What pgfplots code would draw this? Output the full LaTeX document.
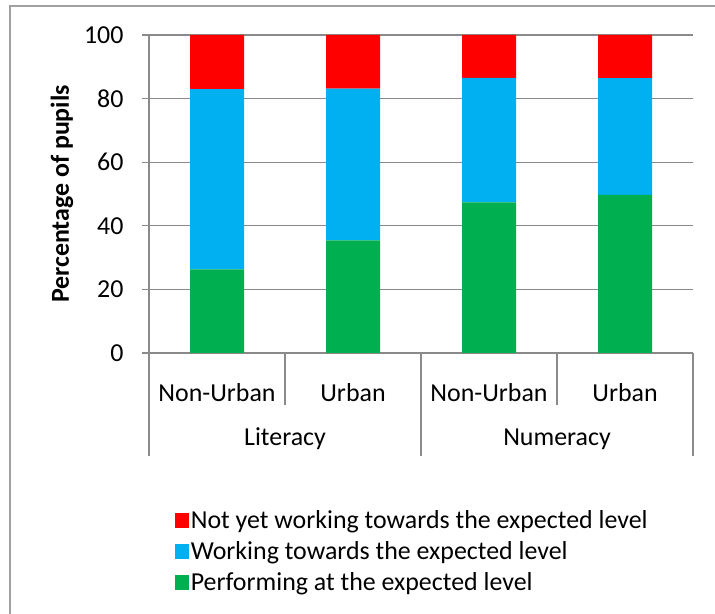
\documentclass[border=0pt]{standalone}
\usepackage{fontspec}
\setmainfont{Carlito}
\usepackage{pgfplots}
\pgfplotsset{compat=1.18}
\definecolor{cred}{HTML}{FF0000}
\definecolor{cblue}{HTML}{00B0F0}
\definecolor{cgreen}{HTML}{00B050}
\definecolor{cgrid}{HTML}{8A8A8A}
\begin{document}
\begin{tikzpicture}[x=1bp,y=1bp,font=\fontsize{26}{31}\selectfont]
\useasboundingbox (0,0) rectangle (715,614);
\draw[cgrid!80, line width=1.5bp] (10,0) -- (10,608) -- (715,608);
\begin{axis}[
  at={(149bp,261bp)}, anchor=south west,
  scale only axis, width=544bp, height=318bp,
  ybar stacked, bar width=54bp,
  xmin=-0.5, xmax=3.5, ymin=0, ymax=100,
  xtick={0,1,2,3}, xticklabels={Non-Urban,Urban,Non-Urban,Urban},
  x tick style={draw=none},
  xticklabel style={anchor=base, yshift=-42bp},
  ytick={0,20,40,60,80,100},
  ymajorgrids, grid style={cgrid, line width=1.2bp},
  axis x line*=bottom, axis y line*=left,
  axis line style={cgrid, line width=1.2bp},
  y tick style={cgrid, line width=1.2bp}, tick align=outside, major tick length=7bp,
  yticklabel style={anchor=east, xshift=-15bp},
  /pgf/number format/assume math mode=true,
  ylabel={\bfseries Percentage of pupils},
  ylabel style={at={(axis description cs:-0.16,0.5)}, anchor=center},
  legend style={at={(axis description cs:0.047,-0.489)}, anchor=north west, draw=none, fill=none, row sep=7.5bp, inner sep=0pt, nodes={inner sep=2bp}},
  legend cell align=left, reverse legend,
  legend image code/.code={\fill[#1] (0bp,-7.5bp) rectangle (14bp,7bp);},
  clip=false,
]
\addplot[fill=cgreen, draw=none] coordinates {(0,26.3) (1,35.4) (2,47.4) (3,49.7)};
\addplot[fill=cblue, draw=none] coordinates {(0,56.7) (1,47.7) (2,39.1) (3,36.7)};
\addplot[fill=cred, draw=none] coordinates {(0,17.0) (1,16.9) (2,13.5) (3,13.6)};
\legend{Performing at the expected level, Working towards the expected level, Not yet working towards the expected level}
\draw[cgrid, line width=1.2bp] (axis cs:-0.5,0) -- ++(0bp,-103bp);
\draw[cgrid, line width=1.2bp] (axis cs:1.5,0) -- ++(0bp,-103bp);
\draw[cgrid, line width=1.2bp] (axis cs:3.5,0) -- ++(0bp,-103bp);
\draw[cgrid, line width=1.2bp] (axis cs:0.5,0) -- ++(0bp,-52bp);
\draw[cgrid, line width=1.2bp] (axis cs:2.5,0) -- ++(0bp,-52bp);
\path (axis cs:0.5,0) ++(0bp,-93bp) node[anchor=base] {Literacy};
\path (axis cs:2.5,0) ++(0bp,-93bp) node[anchor=base] {Numeracy};
\end{axis}
\end{tikzpicture}
\end{document}
